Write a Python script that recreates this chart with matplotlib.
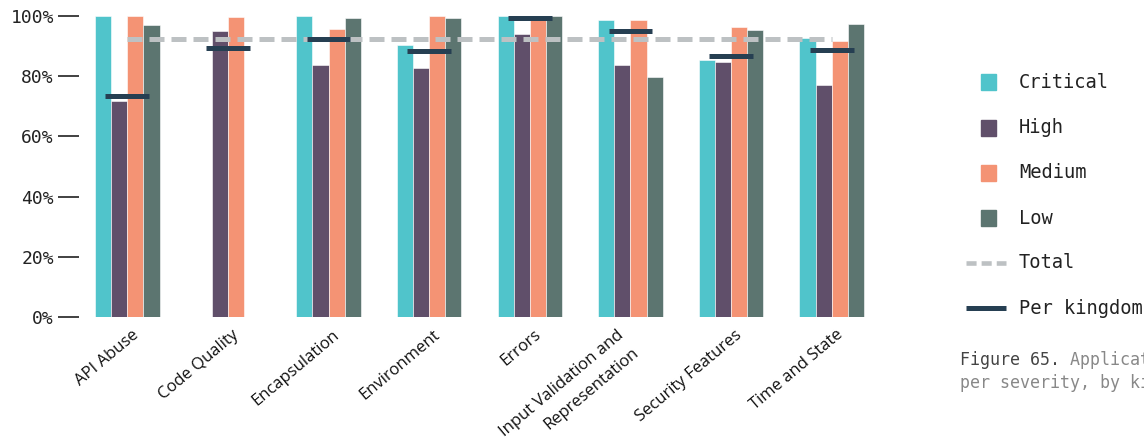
import matplotlib
matplotlib.use("Agg")
import matplotlib.pyplot as plt
import matplotlib.transforms as mtrans
import numpy as np
from matplotlib.lines import Line2D
from matplotlib.patches import Rectangle

categories = ["API Abuse", "Code Quality", "Encapsulation", "Environment", "Errors",
              "Input Validation and\nRepresentation", "Security Features", "Time and State"]
critical = [100, np.nan, 100, 90.3, 100, 98.8, 85.3, 92.6]
high = [71.7, 94.9, 83.7, 82.7, 93.9, 83.8, 84.8, 77.2]
medium = [100, 99.7, 95.6, 100, 99.5, 98.6, 96.5, 91.7]
low = [97.1, np.nan, 99.5, 99.5, 100, 79.7, 95.4, 97.5]
per_kingdom = [73.4, 89.5, 92.5, 88.5, 99.5, 95.1, 86.7, 88.8]
total = 92.5
yticks = [0, 20, 40, 60, 80, 100]
ytick_labels = ["0%", "20%", "40%", "60%", "80%", "100%"]
series_names = ["Critical", "High", "Medium", "Low"]

colors = ["#50C4CB", "#604F6A", "#F49374", "#5C7570"]
total_color = "#BDC1C3"
pk_color = "#263F52"
mono = "DejaVu Sans Mono"

W, H = 1144, 443
fig = plt.figure(figsize=(W / 100, H / 100), dpi=100)
ax = fig.add_axes([79 / W, (H - 317) / H, (880 - 79) / W, (317 - 16) / H])

x = np.arange(len(categories))
w = 0.16
series = [critical, high, medium, low]
for i, (vals, c) in enumerate(zip(series, colors)):
    ax.bar(x + (i - 1.5) * w, vals, width=w, color=c, edgecolor="white",
           linewidth=0.4, zorder=2)

ax.plot([x[0], x[-1]], [total, total], color=total_color, lw=3.6,
        dashes=(3.0, 1.4), zorder=3, solid_capstyle="butt", dash_capstyle="butt")
for xi, v in zip(x, per_kingdom):
    ax.plot([xi - 0.217, xi + 0.217], [v, v], color=pk_color, lw=3.6,
            solid_capstyle="butt", zorder=4, clip_on=False)

ax.set_xlim(-0.48, 7.48)
ax.set_ylim(0, 100)
for s in ax.spines.values():
    s.set_visible(False)
ax.set_yticks(yticks)
ax.set_yticklabels(ytick_labels, fontfamily=mono, fontsize=13, color="#222222")
ax.tick_params(axis="y", length=15, width=1.3, color="#333333", pad=3)
ax.set_xticks(x)
ax.set_xticklabels(categories, rotation=40, ha="right", rotation_mode="anchor",
                   fontsize=12, color="#111111", fontfamily="Open Sans")
ax.tick_params(axis="x", length=0, pad=7)
for lab in ax.get_xticklabels():
    dx = 4
    if "\n" in lab.get_text():
        dx = -14
        lab.set_linespacing(1.6)
    lab.set_transform(lab.get_transform() + mtrans.ScaledTranslation(dx / 100, 0, fig.dpi_scale_trans))

# legend (manual)
def fy(py):
    return 1 - py / H

leg_y = [82, 128, 173, 218, 263, 308]
for i, (name, c) in enumerate(zip(series_names, colors)):
    fig.patches.append(Rectangle((981 / W, fy(leg_y[i] + 7.5)), 15 / W, 15 / H,
                                 transform=fig.transFigure, color=c, figure=fig))
    fig.text(1019 / W, fy(leg_y[i]), name, fontfamily=mono, fontsize=13.5,
             va="center", ha="left", color="#222222")
fig.lines.append(Line2D([966 / W, 1006 / W], [fy(leg_y[4])] * 2, transform=fig.transFigure,
                        color=total_color, lw=3.3, dashes=(2.2, 1.1)))
fig.text(1019 / W, fy(leg_y[4]), "Total", fontfamily=mono, fontsize=13.5,
         va="center", ha="left", color="#222222")
fig.lines.append(Line2D([966 / W, 1006 / W], [fy(leg_y[5])] * 2, transform=fig.transFigure,
                        color=pk_color, lw=3.6, solid_capstyle="butt"))
fig.text(1019 / W, fy(leg_y[5]), "Per kingdom", fontfamily=mono, fontsize=13.5,
         va="center", ha="left", color="#222222")

# caption
fig.text(960 / W, fy(365), "Figure 65.", fontfamily=mono, fontsize=12,
         va="baseline", ha="left", color="#444444")
fig.text(1070 / W, fy(365), "Applications fixed", fontfamily=mono, fontsize=12,
         va="baseline", ha="left", color="#888888")
fig.text(960 / W, fy(388), "per severity, by kingdom", fontfamily=mono, fontsize=12,
         va="baseline", ha="left", color="#888888")

fig.savefig("out.png", dpi=100)
